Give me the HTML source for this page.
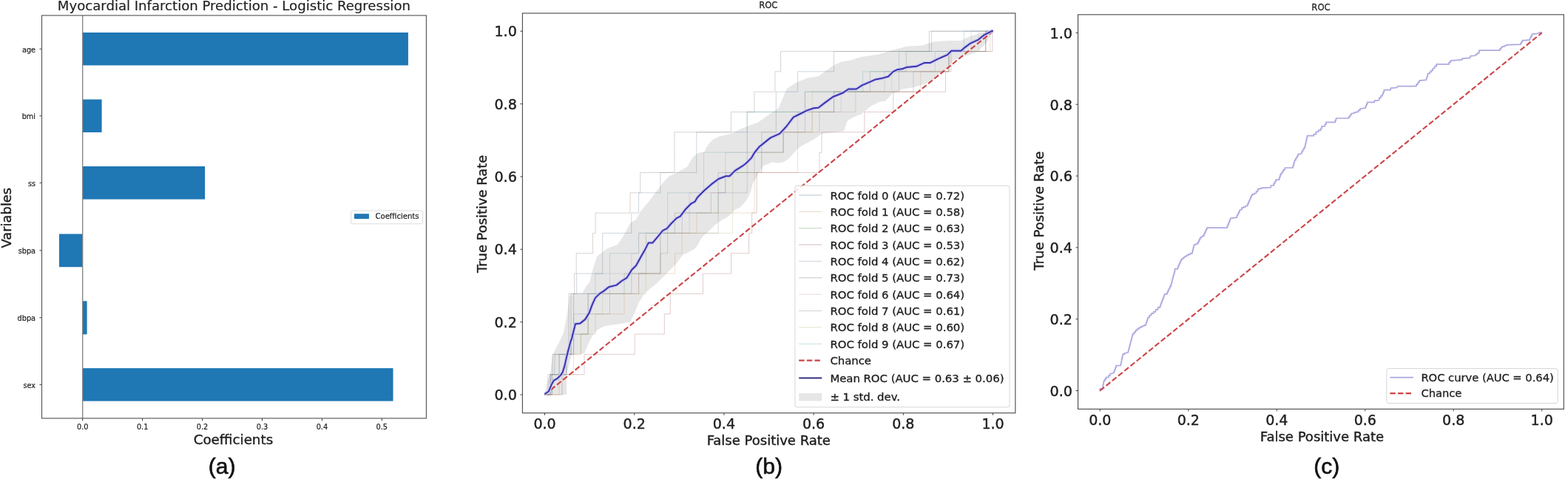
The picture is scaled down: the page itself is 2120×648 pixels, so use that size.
<!DOCTYPE html>
<html><head><meta charset="utf-8"><title>Figure</title>
<style>html,body{margin:0;padding:0;background:#fff;} svg{display:block;}</style></head>
<body><svg width="2120" height="648" viewBox="0 0 2120 648">
<rect width="2120" height="648" fill="#fff"/>
<text x="316.4" y="14.3" font-size="18.1" text-anchor="middle" font-family="'DejaVu Sans', 'Liberation Sans', sans-serif" fill="#1e1e1e" stroke="#1e1e1e" stroke-width="0.15" >Myocardial Infarction Prediction - Logistic Regression</text>
<rect x="111.7" y="44" width="440.2" height="44.4" fill="#1f77b4" />
<line x1="53.5" y1="66.2" x2="56.5" y2="66.2" stroke="#3e3e3e" stroke-width="1" />
<text x="48" y="70.6" font-size="9.7" text-anchor="end" font-family="'DejaVu Sans', 'Liberation Sans', sans-serif" fill="#1e1e1e" stroke="#1e1e1e" stroke-width="0.21" >age</text>
<rect x="111.7" y="134.5" width="25.9" height="44.5" fill="#1f77b4" />
<line x1="53.5" y1="156.75" x2="56.5" y2="156.75" stroke="#3e3e3e" stroke-width="1" />
<text x="48" y="161.15" font-size="9.7" text-anchor="end" font-family="'DejaVu Sans', 'Liberation Sans', sans-serif" fill="#1e1e1e" stroke="#1e1e1e" stroke-width="0.21" >bmi</text>
<rect x="111.7" y="225" width="165.4" height="44.6" fill="#1f77b4" />
<line x1="53.5" y1="247.3" x2="56.5" y2="247.3" stroke="#3e3e3e" stroke-width="1" />
<text x="48" y="251.7" font-size="9.7" text-anchor="end" font-family="'DejaVu Sans', 'Liberation Sans', sans-serif" fill="#1e1e1e" stroke="#1e1e1e" stroke-width="0.21" >ss</text>
<rect x="80" y="316.5" width="31.7" height="44.7" fill="#1f77b4" />
<line x1="53.5" y1="338.85" x2="56.5" y2="338.85" stroke="#3e3e3e" stroke-width="1" />
<text x="48" y="343.25" font-size="9.7" text-anchor="end" font-family="'DejaVu Sans', 'Liberation Sans', sans-serif" fill="#1e1e1e" stroke="#1e1e1e" stroke-width="0.21" >sbpa</text>
<rect x="111.7" y="407.3" width="5.9" height="45" fill="#1f77b4" />
<line x1="53.5" y1="429.8" x2="56.5" y2="429.8" stroke="#3e3e3e" stroke-width="1" />
<text x="48" y="434.2" font-size="9.7" text-anchor="end" font-family="'DejaVu Sans', 'Liberation Sans', sans-serif" fill="#1e1e1e" stroke="#1e1e1e" stroke-width="0.21" >dbpa</text>
<rect x="111.7" y="498.1" width="419.8" height="44.5" fill="#1f77b4" />
<line x1="53.5" y1="520.35" x2="56.5" y2="520.35" stroke="#3e3e3e" stroke-width="1" />
<text x="48" y="524.75" font-size="9.7" text-anchor="end" font-family="'DejaVu Sans', 'Liberation Sans', sans-serif" fill="#1e1e1e" stroke="#1e1e1e" stroke-width="0.21" >sex</text>
<line x1="111.7" y1="20.9" x2="111.7" y2="565.9" stroke="#808080" stroke-width="1.3" />
<line x1="111.7" y1="565.9" x2="111.7" y2="569.4" stroke="#3e3e3e" stroke-width="1" />
<text x="111.7" y="580.9" font-size="9.7" text-anchor="middle" font-family="'DejaVu Sans', 'Liberation Sans', sans-serif" fill="#1e1e1e" stroke="#1e1e1e" stroke-width="0.21" >0.0</text>
<line x1="192.62" y1="565.9" x2="192.62" y2="569.4" stroke="#3e3e3e" stroke-width="1" />
<text x="192.62" y="580.9" font-size="9.7" text-anchor="middle" font-family="'DejaVu Sans', 'Liberation Sans', sans-serif" fill="#1e1e1e" stroke="#1e1e1e" stroke-width="0.21" >0.1</text>
<line x1="273.54" y1="565.9" x2="273.54" y2="569.4" stroke="#3e3e3e" stroke-width="1" />
<text x="273.54" y="580.9" font-size="9.7" text-anchor="middle" font-family="'DejaVu Sans', 'Liberation Sans', sans-serif" fill="#1e1e1e" stroke="#1e1e1e" stroke-width="0.21" >0.2</text>
<line x1="354.46" y1="565.9" x2="354.46" y2="569.4" stroke="#3e3e3e" stroke-width="1" />
<text x="354.46" y="580.9" font-size="9.7" text-anchor="middle" font-family="'DejaVu Sans', 'Liberation Sans', sans-serif" fill="#1e1e1e" stroke="#1e1e1e" stroke-width="0.21" >0.3</text>
<line x1="435.38" y1="565.9" x2="435.38" y2="569.4" stroke="#3e3e3e" stroke-width="1" />
<text x="435.38" y="580.9" font-size="9.7" text-anchor="middle" font-family="'DejaVu Sans', 'Liberation Sans', sans-serif" fill="#1e1e1e" stroke="#1e1e1e" stroke-width="0.21" >0.4</text>
<line x1="516.3" y1="565.9" x2="516.3" y2="569.4" stroke="#3e3e3e" stroke-width="1" />
<text x="516.3" y="580.9" font-size="9.7" text-anchor="middle" font-family="'DejaVu Sans', 'Liberation Sans', sans-serif" fill="#1e1e1e" stroke="#1e1e1e" stroke-width="0.21" >0.5</text>
<rect x="56.5" y="20.9" width="519.9" height="545" fill="none" stroke="#505050" stroke-width="1.1"/>
<rect x="474.6" y="285" width="97" height="17.8" rx="2" fill="#fff" stroke="#d8d8d8" stroke-width="0.9"/>
<rect x="478.9" y="289.2" width="20" height="6.9" fill="#1f77b4" />
<text x="507.6" y="296.1" font-size="10" text-anchor="start" font-family="'DejaVu Sans', 'Liberation Sans', sans-serif" fill="#1e1e1e" stroke="#1e1e1e" stroke-width="0.22" >Coefficients</text>
<text x="315.4" y="600.8" font-size="18.3" text-anchor="middle" font-family="'DejaVu Sans', 'Liberation Sans', sans-serif" fill="#1e1e1e" stroke="#1e1e1e" stroke-width="0.40" >Coefficients</text>
<text x="14.8" y="294.7" font-size="17.9" text-anchor="middle" font-family="'DejaVu Sans', 'Liberation Sans', sans-serif" fill="#1e1e1e" stroke="#1e1e1e" stroke-width="0.39" transform="rotate(-90 14.8 294.7)">Variables</text>
<text x="300.2" y="640.6" font-size="30" text-anchor="middle" font-family="'Liberation Sans', Arial, sans-serif" fill="#111" stroke="#111" stroke-width="0.66" >(a)</text>
<path d="M736.5,534 L740,516 L744,505 L747,480 L755,465 L762,450 L767,424 L770,400 L778,397 L788,396 L792,388 L797,382 L802,363 L807,347 L821,336 L835,331 L843,319 L852,302 L860,297 L866,286 L877,273 L888.3,257.8 L896.7,246.7 L905,238.3 L916,233 L929.3,225.6 L936.7,212.6 L944.1,207 L952.4,205.2 L955.2,199.6 L958.9,194.1 L964.4,188.5 L971.9,184.8 L979.3,183 L990,180.2 L996.5,176.6 L1011.6,170.2 L1024.6,165.8 L1039.7,155 L1052.6,146.4 L1059.1,131.3 L1063.4,120.5 L1076.4,111.8 L1091.5,105.4 L1106.6,103.2 L1115.3,96.7 L1123.9,90.2 L1136.9,83.8 L1150,81.6 L1163,77.2 L1189,73.3 L1210,66.7 L1226,62.8 L1247,61.5 L1263,56.2 L1284,54.9 L1299,54.9 L1310,49.7 L1326,44.4 L1342.5,42.2 L1342.5,42.2 L1333.5,58 L1321.9,70 L1309.9,74.5 L1299.4,77.5 L1288.9,82 L1280,92 L1270,100 L1262.5,107 L1252,113 L1236,118 L1221,120.6 L1207,126 L1197.1,136.5 L1190,137.5 L1177.8,143.4 L1171.3,148.8 L1164.8,154.2 L1151.8,159.6 L1145.4,164 L1141,177.5 L1111,181 L1103.5,186.4 L1094.1,192.1 L1086.7,195.8 L1080.5,199.5 L1074.3,205.7 L1066.9,214.3 L1059.5,219.3 L1052.1,220.5 L1044.7,219.3 L1038.5,221.7 L1032.3,224.2 L1027.5,232 L1025.5,233 L1022.2,241.5 L1017.9,248 L1014.7,259.8 L1011.4,267.4 L1006,275 L1000.6,280.4 L994.2,283.6 L989.8,287.9 L985,292.4 L980.6,295.2 L976.9,297 L973.1,299.8 L967.6,303.5 L962,309.1 L956.5,314.6 L950.9,319.3 L947.2,323.9 L943.5,331.3 L938.9,336.9 L930.6,341.4 L923.3,344.8 L913.3,357.8 L902.2,368.9 L885.6,385.6 L872,396 L863.3,410 L858,424 L851.7,435.6 L836,438.5 L824,440 L815,442 L807,447 L801,454 L796,464 L790,478 L773,480 L766,506 L766,534 L736.5,534 Z" fill="#e6e6e6" stroke="none"/>
<polyline points="736.5,534 744,534 744,506.68 750,506.68 750,479.36 772,479.36 772,452.03 772,452.03 772,424.71 772,424.71 772,397.39 779.7,397.39 779.7,370.07 814.69,370.07 814.69,342.74 814.69,342.74 814.69,315.42 853.79,315.42 853.79,288.1 863.56,288.1 863.56,260.78 892.89,260.78 892.89,233.46 941.76,233.46 941.76,206.13 941.76,206.13 941.76,178.81 1010.18,178.81 1010.18,151.49 1049.27,151.49 1049.27,124.17 1078.6,124.17 1078.6,96.84 1127.47,96.84 1127.47,69.52 1259.3,69.52 1259.3,42.2 1342.5,42.2" fill="none" stroke="#456c88" stroke-width="1" stroke-linejoin="round" stroke-opacity="0.27" stroke-linejoin="miter"/>
<polyline points="736.5,534 756.05,534 756.05,506.68 775.6,506.68 775.6,479.36 785.37,479.36 785.37,452.03 804.92,452.03 804.92,424.71 844.02,424.71 844.02,397.39 863.56,397.39 863.56,370.07 912.44,370.07 912.44,342.74 922.21,342.74 922.21,315.42 941.76,315.42 941.76,288.1 1020.1,288.1 1020.1,260.78 1020.1,260.78 1020.1,233.46 1078.6,233.46 1078.6,206.13 1078.6,206.13 1078.6,178.81 1098.15,178.81 1098.15,151.49 1156.79,151.49 1156.79,124.17 1244.76,124.17 1244.76,96.84 1282.9,96.84 1282.9,69.52 1338.8,69.52 1338.8,42.2 1342.5,42.2" fill="none" stroke="#c78d5a" stroke-width="1" stroke-linejoin="round" stroke-opacity="0.27" stroke-linejoin="miter"/>
<polyline points="736.5,534 746.27,534 746.27,506.68 756.05,506.68 756.05,479.36 772,479.36 772,452.03 795.15,452.03 795.15,424.71 795.15,424.71 795.15,397.39 844.02,397.39 844.02,370.07 873.34,370.07 873.34,342.74 873.34,342.74 873.34,315.42 912.44,315.42 912.44,288.1 971.08,288.1 971.08,260.78 971.08,260.78 971.08,233.46 1010.18,233.46 1010.18,206.13 1029.73,206.13 1029.73,178.81 1049.27,178.81 1049.27,151.49 1127.47,151.49 1127.47,124.17 1176.34,124.17 1176.34,96.84 1225.21,96.84 1225.21,69.52 1332.73,69.52 1332.73,42.2 1342.5,42.2" fill="none" stroke="#518651" stroke-width="1" stroke-linejoin="round" stroke-opacity="0.27" stroke-linejoin="miter"/>
<polyline points="736.5,534 760,534 760,506.68 790,506.68 790,479.36 858.2,479.36 858.2,452.03 898.3,452.03 898.3,424.71 906.3,424.71 906.3,397.39 950.4,397.39 950.4,370.07 988.5,370.07 988.5,342.74 1012.6,342.74 1012.6,315.42 1016.6,315.42 1016.6,288.1 1023.1,288.1 1023.1,260.78 1023.1,260.78 1023.1,233.46 1108,233.46 1108,206.13 1111,206.13 1111,178.81 1168.8,178.81 1168.8,151.49 1207.8,151.49 1207.8,124.17 1278.4,124.17 1278.4,96.84 1285.9,96.84 1285.9,69.52 1341.8,69.52 1341.8,42.2 1342.5,42.2" fill="none" stroke="#934444" stroke-width="1" stroke-linejoin="round" stroke-opacity="0.27" stroke-linejoin="miter"/>
<polyline points="736.5,534 744,534 744,506.68 756.05,506.68 756.05,479.36 775.6,479.36 775.6,452.03 775.6,452.03 775.6,424.71 795.15,424.71 795.15,397.39 863.56,397.39 863.56,370.07 892.89,370.07 892.89,342.74 892.89,342.74 892.89,315.42 922.21,315.42 922.21,288.1 961.31,288.1 961.31,260.78 1010.18,260.78 1010.18,233.46 1029.73,233.46 1029.73,206.13 1059.05,206.13 1059.05,178.81 1088.37,178.81 1088.37,151.49 1088.37,151.49 1088.37,124.17 1234.98,124.17 1234.98,96.84 1282.9,96.84 1282.9,69.52 1332.73,69.52 1332.73,42.2 1342.5,42.2" fill="none" stroke="#88749a" stroke-width="1" stroke-linejoin="round" stroke-opacity="0.27" stroke-linejoin="miter"/>
<polyline points="736.5,534 741,534 741,506.68 747,506.68 747,479.36 769,479.36 769,452.03 769,452.03 769,424.71 769,424.71 769,397.39 776.7,397.39 776.7,370.07 779.2,370.07 779.2,342.74 801.4,342.74 801.4,315.42 805.1,315.42 805.1,288.1 852,288.1 852,260.78 865.6,260.78 865.6,233.46 912,233.46 912,206.13 912,206.13 912,178.81 988.4,178.81 988.4,151.49 1019.9,151.49 1019.9,124.17 1047.9,124.17 1047.9,96.84 1055.5,96.84 1055.5,69.52 1256.3,69.52 1256.3,42.2 1342.5,42.2" fill="none" stroke="#765e59" stroke-width="1" stroke-linejoin="round" stroke-opacity="0.27" stroke-linejoin="miter"/>
<polyline points="736.5,534 744,534 744,506.68 765.82,506.68 765.82,479.36 775.6,479.36 775.6,452.03 775.6,452.03 775.6,424.71 775.6,424.71 775.6,397.39 824.47,397.39 824.47,370.07 853.79,370.07 853.79,342.74 863.56,342.74 863.56,315.42 931.98,315.42 931.98,288.1 931.98,288.1 931.98,260.78 980.85,260.78 980.85,233.46 980.85,233.46 980.85,206.13 1010.18,206.13 1010.18,178.81 1078.6,178.81 1078.6,151.49 1137.24,151.49 1137.24,124.17 1195.89,124.17 1195.89,96.84 1264.31,96.84 1264.31,69.52 1313.18,69.52 1313.18,42.2 1342.5,42.2" fill="none" stroke="#be8daf" stroke-width="1" stroke-linejoin="round" stroke-opacity="0.27" stroke-linejoin="miter"/>
<polyline points="736.5,534 746.27,534 746.27,506.68 765.82,506.68 765.82,479.36 775.6,479.36 775.6,452.03 795.15,452.03 795.15,424.71 824.47,424.71 824.47,397.39 853.79,397.39 853.79,370.07 892.89,370.07 892.89,342.74 902.66,342.74 902.66,315.42 971.08,315.42 971.08,288.1 971.08,288.1 971.08,260.78 980.85,260.78 980.85,233.46 1019.95,233.46 1019.95,206.13 1059.05,206.13 1059.05,178.81 1107.92,178.81 1107.92,151.49 1127.47,151.49 1127.47,124.17 1215.44,124.17 1215.44,96.84 1282.9,96.84 1282.9,69.52 1332.73,69.52 1332.73,42.2 1342.5,42.2" fill="none" stroke="#7f7f7f" stroke-width="1" stroke-linejoin="round" stroke-opacity="0.27" stroke-linejoin="miter"/>
<polyline points="736.5,534 746.27,534 746.27,506.68 765.82,506.68 765.82,479.36 785.37,479.36 785.37,452.03 795.15,452.03 795.15,424.71 814.69,424.71 814.69,397.39 873.34,397.39 873.34,370.07 892.89,370.07 892.89,342.74 892.89,342.74 892.89,315.42 990.63,315.42 990.63,288.1 990.63,288.1 990.63,260.78 990.63,260.78 990.63,233.46 1029.73,233.46 1029.73,206.13 1059.05,206.13 1059.05,178.81 1098.15,178.81 1098.15,151.49 1098.15,151.49 1098.15,124.17 1205.66,124.17 1205.66,96.84 1282.9,96.84 1282.9,69.52 1322.95,69.52 1322.95,42.2 1342.5,42.2" fill="none" stroke="#b3b36d" stroke-width="1" stroke-linejoin="round" stroke-opacity="0.27" stroke-linejoin="miter"/>
<polyline points="736.5,534 744,534 744,506.68 765.82,506.68 765.82,479.36 772,479.36 772,452.03 775.6,452.03 775.6,424.71 775.6,424.71 775.6,397.39 804.92,397.39 804.92,370.07 824.47,370.07 824.47,342.74 863.56,342.74 863.56,315.42 902.66,315.42 902.66,288.1 902.66,288.1 902.66,260.78 951.53,260.78 951.53,233.46 951.53,233.46 951.53,206.13 1010.18,206.13 1010.18,178.81 1010.18,178.81 1010.18,151.49 1088.37,151.49 1088.37,124.17 1166.56,124.17 1166.56,96.84 1215.44,96.84 1215.44,69.52 1303.4,69.52 1303.4,42.2 1342.5,42.2" fill="none" stroke="#58a4ab" stroke-width="1" stroke-linejoin="round" stroke-opacity="0.27" stroke-linejoin="miter"/>
<line x1="736.5" y1="534" x2="1342.5" y2="42.2" stroke="#cc4446" stroke-width="2.1" stroke-dasharray="7.4 3.2"/>
<polyline points="736.4,533.3 742,529.2 745.4,520.8 748.9,514.6 753.8,511.8 758,507.6 760.7,503.5 763.5,494.4 766.3,481.9 768.4,473.6 771.8,461.1 773.1,457.8 777.9,438.3 784.2,437.6 791.1,432.1 796.7,423.1 800.8,411.9 805,402.9 810.6,397.4 816.1,393.9 823.1,388.3 833.6,385.6 840.6,380 847.5,375.8 854.4,364.7 860,359.2 866.9,346.7 872.5,336.9 876.7,328.6 882.2,328.6 889.2,320.3 896.1,311.9 901.7,309.2 907.4,302.5 914.8,295.1 919.8,292.6 927.2,282.7 934.6,275.3 939.5,272.8 943.2,266.7 951.9,258 961.7,249.4 971.6,242 981.5,238.3 986.4,238.3 993.8,230.9 1003.7,224.7 1008.6,221 1016,213.6 1020.1,206.5 1026.3,198.8 1034,192.6 1041.7,186.4 1054.1,180.9 1063.3,171 1072.6,158.6 1081.9,154 1091.1,149.4 1100.4,146.3 1106.5,145.7 1115.8,138.6 1126.2,131 1139.3,125.8 1147.2,120.5 1157.7,120.5 1165.6,115.3 1176.1,110.8 1183.9,107.4 1191.8,106.1 1201,103.5 1207.6,96.9 1212.8,94.3 1220.7,93 1225.9,90.9 1239,89.8 1249.5,85.1 1257.4,85.1 1267.9,79.8 1281,74.1 1286.3,68.8 1299.4,68.8 1304.6,64.1 1312.5,58.3 1323,53.6 1330.9,47.1 1341.3,41.8 1342.5,42.2" fill="none" stroke="#cdcbf5" stroke-width="4.4" stroke-linejoin="round" />
<polyline points="736.4,533.3 742,529.2 745.4,520.8 748.9,514.6 753.8,511.8 758,507.6 760.7,503.5 763.5,494.4 766.3,481.9 768.4,473.6 771.8,461.1 773.1,457.8 777.9,438.3 784.2,437.6 791.1,432.1 796.7,423.1 800.8,411.9 805,402.9 810.6,397.4 816.1,393.9 823.1,388.3 833.6,385.6 840.6,380 847.5,375.8 854.4,364.7 860,359.2 866.9,346.7 872.5,336.9 876.7,328.6 882.2,328.6 889.2,320.3 896.1,311.9 901.7,309.2 907.4,302.5 914.8,295.1 919.8,292.6 927.2,282.7 934.6,275.3 939.5,272.8 943.2,266.7 951.9,258 961.7,249.4 971.6,242 981.5,238.3 986.4,238.3 993.8,230.9 1003.7,224.7 1008.6,221 1016,213.6 1020.1,206.5 1026.3,198.8 1034,192.6 1041.7,186.4 1054.1,180.9 1063.3,171 1072.6,158.6 1081.9,154 1091.1,149.4 1100.4,146.3 1106.5,145.7 1115.8,138.6 1126.2,131 1139.3,125.8 1147.2,120.5 1157.7,120.5 1165.6,115.3 1176.1,110.8 1183.9,107.4 1191.8,106.1 1201,103.5 1207.6,96.9 1212.8,94.3 1220.7,93 1225.9,90.9 1239,89.8 1249.5,85.1 1257.4,85.1 1267.9,79.8 1281,74.1 1286.3,68.8 1299.4,68.8 1304.6,64.1 1312.5,58.3 1323,53.6 1330.9,47.1 1341.3,41.8 1342.5,42.2" fill="none" stroke="#3a33a8" stroke-width="2.0" stroke-linejoin="round" />
<line x1="736.5" y1="558.7" x2="736.5" y2="561.7" stroke="#3e3e3e" stroke-width="1" />
<text x="736.5" y="580.3" font-size="19" text-anchor="middle" font-family="'DejaVu Sans', 'Liberation Sans', sans-serif" fill="#1e1e1e" stroke="#1e1e1e" stroke-width="0.42" >0.0</text>
<line x1="703.4" y1="534" x2="706.4" y2="534" stroke="#3e3e3e" stroke-width="1" />
<text x="698.8" y="541.2" font-size="19.1" text-anchor="end" font-family="'DejaVu Sans', 'Liberation Sans', sans-serif" fill="#1e1e1e" stroke="#1e1e1e" stroke-width="0.42" >0.0</text>
<line x1="857.7" y1="558.7" x2="857.7" y2="561.7" stroke="#3e3e3e" stroke-width="1" />
<text x="857.7" y="580.3" font-size="19" text-anchor="middle" font-family="'DejaVu Sans', 'Liberation Sans', sans-serif" fill="#1e1e1e" stroke="#1e1e1e" stroke-width="0.42" >0.2</text>
<line x1="703.4" y1="435.64" x2="706.4" y2="435.64" stroke="#3e3e3e" stroke-width="1" />
<text x="698.8" y="442.84" font-size="19.1" text-anchor="end" font-family="'DejaVu Sans', 'Liberation Sans', sans-serif" fill="#1e1e1e" stroke="#1e1e1e" stroke-width="0.42" >0.2</text>
<line x1="978.9" y1="558.7" x2="978.9" y2="561.7" stroke="#3e3e3e" stroke-width="1" />
<text x="978.9" y="580.3" font-size="19" text-anchor="middle" font-family="'DejaVu Sans', 'Liberation Sans', sans-serif" fill="#1e1e1e" stroke="#1e1e1e" stroke-width="0.42" >0.4</text>
<line x1="703.4" y1="337.28" x2="706.4" y2="337.28" stroke="#3e3e3e" stroke-width="1" />
<text x="698.8" y="344.48" font-size="19.1" text-anchor="end" font-family="'DejaVu Sans', 'Liberation Sans', sans-serif" fill="#1e1e1e" stroke="#1e1e1e" stroke-width="0.42" >0.4</text>
<line x1="1100.1" y1="558.7" x2="1100.1" y2="561.7" stroke="#3e3e3e" stroke-width="1" />
<text x="1100.1" y="580.3" font-size="19" text-anchor="middle" font-family="'DejaVu Sans', 'Liberation Sans', sans-serif" fill="#1e1e1e" stroke="#1e1e1e" stroke-width="0.42" >0.6</text>
<line x1="703.4" y1="238.92" x2="706.4" y2="238.92" stroke="#3e3e3e" stroke-width="1" />
<text x="698.8" y="246.12" font-size="19.1" text-anchor="end" font-family="'DejaVu Sans', 'Liberation Sans', sans-serif" fill="#1e1e1e" stroke="#1e1e1e" stroke-width="0.42" >0.6</text>
<line x1="1221.3" y1="558.7" x2="1221.3" y2="561.7" stroke="#3e3e3e" stroke-width="1" />
<text x="1221.3" y="580.3" font-size="19" text-anchor="middle" font-family="'DejaVu Sans', 'Liberation Sans', sans-serif" fill="#1e1e1e" stroke="#1e1e1e" stroke-width="0.42" >0.8</text>
<line x1="703.4" y1="140.56" x2="706.4" y2="140.56" stroke="#3e3e3e" stroke-width="1" />
<text x="698.8" y="147.76" font-size="19.1" text-anchor="end" font-family="'DejaVu Sans', 'Liberation Sans', sans-serif" fill="#1e1e1e" stroke="#1e1e1e" stroke-width="0.42" >0.8</text>
<line x1="1342.5" y1="558.7" x2="1342.5" y2="561.7" stroke="#3e3e3e" stroke-width="1" />
<text x="1342.5" y="580.3" font-size="19" text-anchor="middle" font-family="'DejaVu Sans', 'Liberation Sans', sans-serif" fill="#1e1e1e" stroke="#1e1e1e" stroke-width="0.42" >1.0</text>
<line x1="703.4" y1="42.2" x2="706.4" y2="42.2" stroke="#3e3e3e" stroke-width="1" />
<text x="698.8" y="49.4" font-size="19.1" text-anchor="end" font-family="'DejaVu Sans', 'Liberation Sans', sans-serif" fill="#1e1e1e" stroke="#1e1e1e" stroke-width="0.42" >1.0</text>
<rect x="706.4" y="17.9" width="666.4" height="540.8" fill="none" stroke="#484848" stroke-width="1.1"/>
<rect x="1074.9" y="251.2" width="290.1" height="299.6" rx="3" fill="#fff" fill-opacity="0.85" stroke="#d6d6d6" stroke-width="1"/>
<line x1="1080.2" y1="264" x2="1111.2" y2="264" stroke="#456c88" stroke-width="1.2" stroke-opacity="0.3"/>
<text x="1122.4" y="269.5" font-size="14.85" text-anchor="start" font-family="'DejaVu Sans', 'Liberation Sans', sans-serif" fill="#1e1e1e" stroke="#1e1e1e" stroke-width="0.33" >ROC fold 0 (AUC = 0.72)</text>
<line x1="1080.2" y1="286.36" x2="1111.2" y2="286.36" stroke="#c78d5a" stroke-width="1.2" stroke-opacity="0.3"/>
<text x="1122.4" y="291.86" font-size="14.85" text-anchor="start" font-family="'DejaVu Sans', 'Liberation Sans', sans-serif" fill="#1e1e1e" stroke="#1e1e1e" stroke-width="0.33" >ROC fold 1 (AUC = 0.58)</text>
<line x1="1080.2" y1="308.72" x2="1111.2" y2="308.72" stroke="#518651" stroke-width="1.2" stroke-opacity="0.3"/>
<text x="1122.4" y="314.22" font-size="14.85" text-anchor="start" font-family="'DejaVu Sans', 'Liberation Sans', sans-serif" fill="#1e1e1e" stroke="#1e1e1e" stroke-width="0.33" >ROC fold 2 (AUC = 0.63)</text>
<line x1="1080.2" y1="331.08" x2="1111.2" y2="331.08" stroke="#934444" stroke-width="1.2" stroke-opacity="0.3"/>
<text x="1122.4" y="336.58" font-size="14.85" text-anchor="start" font-family="'DejaVu Sans', 'Liberation Sans', sans-serif" fill="#1e1e1e" stroke="#1e1e1e" stroke-width="0.33" >ROC fold 3 (AUC = 0.53)</text>
<line x1="1080.2" y1="353.44" x2="1111.2" y2="353.44" stroke="#88749a" stroke-width="1.2" stroke-opacity="0.3"/>
<text x="1122.4" y="358.94" font-size="14.85" text-anchor="start" font-family="'DejaVu Sans', 'Liberation Sans', sans-serif" fill="#1e1e1e" stroke="#1e1e1e" stroke-width="0.33" >ROC fold 4 (AUC = 0.62)</text>
<line x1="1080.2" y1="375.8" x2="1111.2" y2="375.8" stroke="#765e59" stroke-width="1.2" stroke-opacity="0.3"/>
<text x="1122.4" y="381.3" font-size="14.85" text-anchor="start" font-family="'DejaVu Sans', 'Liberation Sans', sans-serif" fill="#1e1e1e" stroke="#1e1e1e" stroke-width="0.33" >ROC fold 5 (AUC = 0.73)</text>
<line x1="1080.2" y1="398.16" x2="1111.2" y2="398.16" stroke="#be8daf" stroke-width="1.2" stroke-opacity="0.3"/>
<text x="1122.4" y="403.66" font-size="14.85" text-anchor="start" font-family="'DejaVu Sans', 'Liberation Sans', sans-serif" fill="#1e1e1e" stroke="#1e1e1e" stroke-width="0.33" >ROC fold 6 (AUC = 0.64)</text>
<line x1="1080.2" y1="420.52" x2="1111.2" y2="420.52" stroke="#7f7f7f" stroke-width="1.2" stroke-opacity="0.3"/>
<text x="1122.4" y="426.02" font-size="14.85" text-anchor="start" font-family="'DejaVu Sans', 'Liberation Sans', sans-serif" fill="#1e1e1e" stroke="#1e1e1e" stroke-width="0.33" >ROC fold 7 (AUC = 0.61)</text>
<line x1="1080.2" y1="442.88" x2="1111.2" y2="442.88" stroke="#b3b36d" stroke-width="1.2" stroke-opacity="0.3"/>
<text x="1122.4" y="448.38" font-size="14.85" text-anchor="start" font-family="'DejaVu Sans', 'Liberation Sans', sans-serif" fill="#1e1e1e" stroke="#1e1e1e" stroke-width="0.33" >ROC fold 8 (AUC = 0.60)</text>
<line x1="1080.2" y1="465.24" x2="1111.2" y2="465.24" stroke="#58a4ab" stroke-width="1.2" stroke-opacity="0.3"/>
<text x="1122.4" y="470.74" font-size="14.85" text-anchor="start" font-family="'DejaVu Sans', 'Liberation Sans', sans-serif" fill="#1e1e1e" stroke="#1e1e1e" stroke-width="0.33" >ROC fold 9 (AUC = 0.67)</text>
<line x1="1080.2" y1="487.6" x2="1111.2" y2="487.6" stroke="#cc4446" stroke-width="2.1" stroke-dasharray="7.4 3.2"/>
<text x="1122.4" y="492.5" font-size="14.85" text-anchor="start" font-family="'DejaVu Sans', 'Liberation Sans', sans-serif" fill="#1e1e1e" stroke="#1e1e1e" stroke-width="0.33" >Chance</text>
<line x1="1080.2" y1="511.4" x2="1111.2" y2="511.4" stroke="#33307e" stroke-width="2.0" />
<text x="1122.4" y="517.3" font-size="14.85" text-anchor="start" font-family="'DejaVu Sans', 'Liberation Sans', sans-serif" fill="#1e1e1e" stroke="#1e1e1e" stroke-width="0.33" >Mean ROC (AUC = 0.63 &#177; 0.06)</text>
<rect x="1080.2" y="531.9" width="31" height="10.5" fill="#e6e6e6" />
<text x="1122.4" y="541.6" font-size="14.85" text-anchor="start" font-family="'DejaVu Sans', 'Liberation Sans', sans-serif" fill="#1e1e1e" stroke="#1e1e1e" stroke-width="0.33" >&#177; 1 std. dev.</text>
<text x="1038.8" y="11.3" font-size="11.6" text-anchor="middle" font-family="'DejaVu Sans', 'Liberation Sans', sans-serif" fill="#1e1e1e" stroke="#1e1e1e" stroke-width="0.26" >ROC</text>
<text x="1039.3" y="601.6" font-size="18" text-anchor="middle" font-family="'DejaVu Sans', 'Liberation Sans', sans-serif" fill="#1e1e1e" stroke="#1e1e1e" stroke-width="0.40" >False Positive Rate</text>
<text x="657.7" y="289.4" font-size="17.9" text-anchor="middle" font-family="'DejaVu Sans', 'Liberation Sans', sans-serif" fill="#1e1e1e" stroke="#1e1e1e" stroke-width="0.39" transform="rotate(-90 657.7 289.4)">True Positive Rate</text>
<text x="1039.6" y="640.6" font-size="30" text-anchor="middle" font-family="'Liberation Sans', Arial, sans-serif" fill="#111" stroke="#111" stroke-width="0.66" >(b)</text>
<polyline points="1487.2,529.4 1487.2,525.8 1490.8,525.8 1490.8,523.03 1491.33,523.03 1491.33,520.27 1491.87,520.27 1491.87,517.5 1492.4,517.5 1492.4,515.1 1493.95,515.1 1493.95,512.7 1495.5,512.7 1495.5,510.3 1499.1,510.3 1499.1,507.9 1500.9,507.9 1500.9,505.5 1502.7,505.5 1506.3,504.3 1506.3,501.9 1507.2,501.9 1507.2,499.5 1508.1,499.5 1508.1,497.1 1509,497.1 1509,494.7 1509.9,494.7 1515.4,494.3 1515.4,491.52 1515.98,491.52 1515.98,488.74 1516.56,488.74 1516.56,485.96 1517.14,485.96 1517.14,483.18 1517.72,483.18 1517.72,480.4 1518.3,480.4 1518.3,478.95 1520.65,478.95 1520.65,477.5 1523,477.5 1525.4,476.8 1525.4,474.28 1526.07,474.28 1526.07,471.76 1526.73,471.76 1526.73,469.23 1527.4,469.23 1527.4,466.71 1528.07,466.71 1528.07,464.19 1528.73,464.19 1528.73,461.67 1529.4,461.67 1529.4,459.14 1530.07,459.14 1530.07,456.62 1530.73,456.62 1530.73,454.1 1531.4,454.1 1531.4,451.7 1533.4,451.7 1533.4,449.3 1535.4,449.3 1535.4,446.9 1537.4,446.9 1537.4,445.15 1539.8,445.15 1539.8,443.4 1542.2,443.4 1542.2,442.2 1544.57,442.2 1544.57,441 1546.93,441 1546.93,439.8 1549.3,439.8 1549.3,437.4 1550.1,437.4 1550.1,435 1550.9,435 1550.9,432.6 1551.7,432.6 1551.7,429.6 1554.1,429.6 1554.1,426.6 1556.5,426.6 1556.5,424.2 1559.5,424.2 1559.5,421.8 1562.5,421.8 1562.5,418.85 1565.5,418.85 1565.5,415.9 1568.5,415.9 1568.5,413.3 1569.48,413.3 1569.48,410.7 1570.47,410.7 1570.47,408.1 1571.45,408.1 1571.45,405.5 1572.43,405.5 1572.43,402.9 1573.42,402.9 1573.42,400.3 1574.4,400.3 1574.4,397.9 1578,397.9 1578,395.27 1579.28,395.27 1579.28,392.65 1580.55,392.65 1580.55,390.02 1581.82,390.02 1581.82,387.4 1583.1,387.4 1583.1,384.94 1583.76,384.94 1583.76,382.47 1584.42,382.47 1584.42,380.01 1585.09,380.01 1585.09,377.55 1585.75,377.55 1585.75,375.09 1586.41,375.09 1586.41,372.62 1587.08,372.62 1587.08,370.16 1587.74,370.16 1587.74,367.7 1588.4,367.7 1588.4,363.8 1592.3,363.8 1592.3,361.44 1593.34,361.44 1593.34,359.08 1594.38,359.08 1594.38,356.72 1595.42,356.72 1595.42,354.36 1596.46,354.36 1596.46,352 1597.5,352 1597.5,350.3 1599.5,350.3 1599.5,348.6 1601.5,348.6 1601.5,347 1604.1,347 1604.1,345.4 1606.7,345.4 1606.7,344.1 1609.35,344.1 1609.35,342.8 1612,342.8 1612,340.18 1612.65,340.18 1612.65,337.55 1613.3,337.55 1613.3,334.93 1613.95,334.93 1613.95,332.3 1614.6,332.3 1614.6,331 1617.2,331 1617.2,329.7 1619.8,329.7 1619.8,327.07 1621.13,327.07 1621.13,324.43 1622.47,324.43 1622.47,321.8 1623.8,321.8 1623.8,320.5 1625.75,320.5 1625.75,319.2 1627.7,319.2 1627.7,316.45 1629.03,316.45 1629.03,313.7 1630.35,313.7 1630.35,310.95 1631.67,310.95 1631.67,308.2 1633,308.2 1659.2,308.2 1659.2,305.68 1660.24,305.68 1660.24,303.16 1661.28,303.16 1661.28,300.64 1662.32,300.64 1662.32,298.12 1663.36,298.12 1663.36,295.6 1664.4,295.6 1664.4,295.17 1667.03,295.17 1667.03,294.73 1669.67,294.73 1669.67,294.3 1672.3,294.3 1672.3,291.67 1673.6,291.67 1673.6,289.03 1674.9,289.03 1674.9,286.4 1676.2,286.4 1676.2,283.75 1678.85,283.75 1678.85,281.1 1681.5,281.1 1681.5,279.8 1684.1,279.8 1684.1,278.5 1686.7,278.5 1686.7,276.2 1687.7,276.2 1687.7,273.9 1688.7,273.9 1688.7,271.6 1689.7,271.6 1689.7,269.3 1690.7,269.3 1690.7,266.7 1692,266.7 1692,264.1 1693.3,264.1 1693.3,262.8 1695.9,262.8 1695.9,261.5 1698.5,261.5 1698.5,258.85 1700.5,258.85 1700.5,256.2 1702.5,256.2 1702.5,255.15 1705.75,255.15 1705.75,254.1 1709,254.1 1718.2,253.6 1718.2,251 1722.1,251 1722.1,248.4 1723.57,248.4 1723.57,245.8 1725.03,245.8 1725.03,243.2 1726.5,243.2 1729.7,243.2 1729.7,239.95 1730.8,239.95 1730.8,236.7 1731.9,236.7 1731.9,234.55 1733.5,234.55 1733.5,232.4 1735.1,232.4 1735.1,229.7 1737.25,229.7 1737.25,227 1739.4,227 1748.1,227 1748.1,224.47 1748.83,224.47 1748.83,221.93 1749.57,221.93 1749.57,219.4 1750.3,219.4 1750.3,216.7 1751.9,216.7 1751.9,214 1753.5,214 1753.5,211.3 1755.1,211.3 1755.1,208.6 1756.7,208.6 1760,207.5 1760,205 1761.43,205 1761.43,202.5 1762.87,202.5 1762.87,200 1764.3,200 1764.3,197.18 1764.94,197.18 1764.94,194.36 1765.58,194.36 1765.58,191.54 1766.22,191.54 1766.22,188.72 1766.86,188.72 1766.86,185.9 1767.5,185.9 1767.5,183.7 1769.7,183.7 1776.2,183.7 1776.2,181.6 1779.4,181.6 1779.4,178.3 1782.7,178.3 1782.7,176.2 1785.9,176.2 1785.9,173.5 1787,173.5 1787,170.8 1788.1,170.8 1791.3,170.8 1791.3,168.1 1792.9,168.1 1792.9,165.4 1794.5,165.4 1805.3,165.4 1805.3,162.7 1806.4,162.7 1806.4,160 1807.5,160 1823.7,160 1823.7,157.85 1825.35,157.85 1825.35,155.7 1827,155.7 1827,153.5 1830.2,153.5 1830.2,152.4 1833.45,152.4 1833.45,151.3 1836.7,151.3 1836.7,149.15 1838.85,149.15 1838.85,147 1841,147 1846.4,145.9 1846.4,143.4 1847.47,143.4 1847.47,140.9 1848.53,140.9 1848.53,138.4 1849.6,138.4 1858.3,138.4 1858.3,136.2 1861.5,136.2 1864.8,135.1 1864.8,132.4 1866.95,132.4 1866.95,129.7 1869.1,129.7 1869.1,127.03 1870.23,127.03 1870.23,124.37 1871.37,124.37 1871.37,121.7 1872.5,121.7 1880.2,121.7 1880.2,119.1 1881.9,119.1 1888.7,118.3 1889.5,116.6 1915,116.6 1915,114.03 1916.97,114.03 1916.97,111.47 1918.93,111.47 1918.93,108.9 1920.9,108.9 1928.6,108.1 1928.6,105.55 1929.45,105.55 1929.45,103 1930.3,103 1930.3,99.6 1932.8,99.6 1932.8,97.5 1934.95,97.5 1934.95,95.4 1937.1,95.4 1937.1,92.5 1939.6,92.5 1939.6,89.7 1942.15,89.7 1942.15,86.9 1944.7,86.9 1959.1,86.9 1959.1,84.35 1961.25,84.35 1961.25,81.8 1963.4,81.8 1976.9,80.9 1976.9,79.2 1978.6,79.2 1987.1,78.4 1988,75.8 1995.6,75 1995.6,73.3 1997.75,73.3 1997.75,71.6 1999.9,71.6 1999.9,68.2 2001.6,68.2 2027.9,68.2 2027.9,66.1 2029.6,66.1 2029.6,64 2031.3,64 2031.3,62.87 2034.1,62.87 2034.1,61.73 2036.9,61.73 2036.9,60.6 2039.7,60.6 2055.9,60.2 2055.9,58.25 2057.15,58.25 2057.15,56.3 2058.4,56.3 2058.4,54.6 2061.8,54.6 2068.6,53.8 2068.6,51.23 2070,51.23 2070,48.67 2071.4,48.67 2071.4,46.1 2072.8,46.1 2078.8,45.3 2080.5,44.4 2084.7,43.6" fill="none" stroke="#aca9e0" stroke-width="1.7" stroke-linejoin="round" stroke-linejoin="miter"/>
<line x1="1487.3" y1="528.5" x2="2084.7" y2="44.4" stroke="#cc4446" stroke-width="2.1" stroke-dasharray="7.4 3.2"/>
<line x1="1487.3" y1="553.4" x2="1487.3" y2="556.4" stroke="#3e3e3e" stroke-width="1" />
<text x="1487.3" y="575.4" font-size="19" text-anchor="middle" font-family="'DejaVu Sans', 'Liberation Sans', sans-serif" fill="#1e1e1e" stroke="#1e1e1e" stroke-width="0.42" >0.0</text>
<line x1="1454.5" y1="528.5" x2="1457.5" y2="528.5" stroke="#3e3e3e" stroke-width="1" />
<text x="1449.9" y="535.9" font-size="19.1" text-anchor="end" font-family="'DejaVu Sans', 'Liberation Sans', sans-serif" fill="#1e1e1e" stroke="#1e1e1e" stroke-width="0.42" >0.0</text>
<line x1="1606.78" y1="553.4" x2="1606.78" y2="556.4" stroke="#3e3e3e" stroke-width="1" />
<text x="1606.78" y="575.4" font-size="19" text-anchor="middle" font-family="'DejaVu Sans', 'Liberation Sans', sans-serif" fill="#1e1e1e" stroke="#1e1e1e" stroke-width="0.42" >0.2</text>
<line x1="1454.5" y1="431.68" x2="1457.5" y2="431.68" stroke="#3e3e3e" stroke-width="1" />
<text x="1449.9" y="439.08" font-size="19.1" text-anchor="end" font-family="'DejaVu Sans', 'Liberation Sans', sans-serif" fill="#1e1e1e" stroke="#1e1e1e" stroke-width="0.42" >0.2</text>
<line x1="1726.26" y1="553.4" x2="1726.26" y2="556.4" stroke="#3e3e3e" stroke-width="1" />
<text x="1726.26" y="575.4" font-size="19" text-anchor="middle" font-family="'DejaVu Sans', 'Liberation Sans', sans-serif" fill="#1e1e1e" stroke="#1e1e1e" stroke-width="0.42" >0.4</text>
<line x1="1454.5" y1="334.86" x2="1457.5" y2="334.86" stroke="#3e3e3e" stroke-width="1" />
<text x="1449.9" y="342.26" font-size="19.1" text-anchor="end" font-family="'DejaVu Sans', 'Liberation Sans', sans-serif" fill="#1e1e1e" stroke="#1e1e1e" stroke-width="0.42" >0.4</text>
<line x1="1845.74" y1="553.4" x2="1845.74" y2="556.4" stroke="#3e3e3e" stroke-width="1" />
<text x="1845.74" y="575.4" font-size="19" text-anchor="middle" font-family="'DejaVu Sans', 'Liberation Sans', sans-serif" fill="#1e1e1e" stroke="#1e1e1e" stroke-width="0.42" >0.6</text>
<line x1="1454.5" y1="238.04" x2="1457.5" y2="238.04" stroke="#3e3e3e" stroke-width="1" />
<text x="1449.9" y="245.44" font-size="19.1" text-anchor="end" font-family="'DejaVu Sans', 'Liberation Sans', sans-serif" fill="#1e1e1e" stroke="#1e1e1e" stroke-width="0.42" >0.6</text>
<line x1="1965.22" y1="553.4" x2="1965.22" y2="556.4" stroke="#3e3e3e" stroke-width="1" />
<text x="1965.22" y="575.4" font-size="19" text-anchor="middle" font-family="'DejaVu Sans', 'Liberation Sans', sans-serif" fill="#1e1e1e" stroke="#1e1e1e" stroke-width="0.42" >0.8</text>
<line x1="1454.5" y1="141.22" x2="1457.5" y2="141.22" stroke="#3e3e3e" stroke-width="1" />
<text x="1449.9" y="148.62" font-size="19.1" text-anchor="end" font-family="'DejaVu Sans', 'Liberation Sans', sans-serif" fill="#1e1e1e" stroke="#1e1e1e" stroke-width="0.42" >0.8</text>
<line x1="2084.7" y1="553.4" x2="2084.7" y2="556.4" stroke="#3e3e3e" stroke-width="1" />
<text x="2084.7" y="575.4" font-size="19" text-anchor="middle" font-family="'DejaVu Sans', 'Liberation Sans', sans-serif" fill="#1e1e1e" stroke="#1e1e1e" stroke-width="0.42" >1.0</text>
<line x1="1454.5" y1="44.4" x2="1457.5" y2="44.4" stroke="#3e3e3e" stroke-width="1" />
<text x="1449.9" y="51.8" font-size="19.1" text-anchor="end" font-family="'DejaVu Sans', 'Liberation Sans', sans-serif" fill="#1e1e1e" stroke="#1e1e1e" stroke-width="0.42" >1.0</text>
<rect x="1457.5" y="19.8" width="656.8" height="533.6" fill="none" stroke="#484848" stroke-width="1.1"/>
<rect x="1874.8" y="498.6" width="231.4" height="47" rx="3" fill="#fff" fill-opacity="0.85" stroke="#d6d6d6" stroke-width="1"/>
<line x1="1879.4" y1="510.6" x2="1911.1" y2="510.6" stroke="#aaa8e0" stroke-width="1.7" />
<text x="1921.4" y="515.9" font-size="14.7" text-anchor="start" font-family="'DejaVu Sans', 'Liberation Sans', sans-serif" fill="#1e1e1e" stroke="#1e1e1e" stroke-width="0.32" >ROC curve (AUC = 0.64)</text>
<line x1="1879.4" y1="532.1" x2="1911.1" y2="532.1" stroke="#cc4446" stroke-width="2.1" stroke-dasharray="7.4 3.2"/>
<text x="1921.4" y="537.2" font-size="14.7" text-anchor="start" font-family="'DejaVu Sans', 'Liberation Sans', sans-serif" fill="#1e1e1e" stroke="#1e1e1e" stroke-width="0.32" >Chance</text>
<text x="1786" y="13.7" font-size="11.6" text-anchor="middle" font-family="'DejaVu Sans', 'Liberation Sans', sans-serif" fill="#1e1e1e" stroke="#1e1e1e" stroke-width="0.26" >ROC</text>
<text x="1787.4" y="596.6" font-size="18" text-anchor="middle" font-family="'DejaVu Sans', 'Liberation Sans', sans-serif" fill="#1e1e1e" stroke="#1e1e1e" stroke-width="0.40" >False Positive Rate</text>
<text x="1411.3" y="285.2" font-size="18.1" text-anchor="middle" font-family="'DejaVu Sans', 'Liberation Sans', sans-serif" fill="#1e1e1e" stroke="#1e1e1e" stroke-width="0.40" transform="rotate(-90 1411.3 285.2)">True Positive Rate</text>
<text x="1793.8" y="640.6" font-size="30" text-anchor="middle" font-family="'Liberation Sans', Arial, sans-serif" fill="#111" stroke="#111" stroke-width="0.66" >(c)</text>
</svg></body></html>
